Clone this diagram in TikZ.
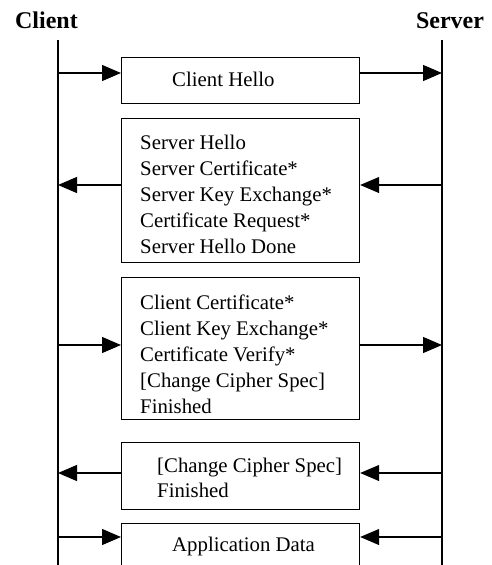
\documentclass[tikz,border=0pt]{standalone}
\usepackage{fontspec}
\setmainfont{Liberation Serif}
\usetikzlibrary{arrows.meta}
\begin{document}
\begin{tikzpicture}[x=1pt,y=-1pt,
  lifeline/.style={line width=1.2pt},
  msgbox/.style={draw, line width=1.2pt, minimum width=238pt, inner sep=0pt, anchor=north west},
  % multi-line texts are placed by the baseline of their last line
  msgtext/.style={font=\fontsize{20.8}{25.8}\selectfont, align=left, anchor=base west, inner sep=0pt},
  title/.style={font=\fontsize{24}{28}\selectfont\bfseries, anchor=base, inner sep=0pt},
  msg/.style={line width=1.2pt, -{Triangle[length=19pt,width=16pt]}}]
\useasboundingbox (0,0) rectangle (492,565);

% party names
\node[title] (client) at (46.5,28) {Client};
\node[title] (server) at (450,28) {Server};

% lifelines
\coordinate (cTop) at (58,40);  \coordinate (cBot) at (58,566);
\coordinate (sTop) at (442,40); \coordinate (sBot) at (442,566);
\draw[lifeline] (cTop) -- (cBot);
\draw[lifeline] (sTop) -- (sBot);

% message boxes
\node[msgbox, minimum height=46pt]  (b1) at (121,57)  {};
\node[msgbox, minimum height=144pt] (b2) at (121,118) {};
\node[msgbox, minimum height=142pt] (b3) at (121,277) {};
\node[msgbox, minimum height=67pt]  (b4) at (121,442) {};
\node[msgbox, minimum height=42pt]  (b5) at (121,523) {};

% message texts
\node[msgtext] (t1) at (172,86) {Client Hello};
\node[msgtext] (t2) at (140,253) {Server Hello\\Server Certificate*\\Server Key Exchange*\\Certificate Request*\\Server Hello Done};
\node[msgtext] (t3) at (140,413) {Client Certificate*\\Client Key Exchange*\\Certificate Verify*\\{[Change Cipher Spec]}\\Finished};
\node[msgtext, font=\fontsize{20.8}{25}\selectfont] (t4) at (157,497) {{[Change Cipher Spec]}\\Finished};
\node[msgtext] (t5) at (172,551) {Application Data};

% arrow rows on the lifelines
\coordinate (c1) at (58,73);  \coordinate (s1) at (442,73);
\coordinate (c2) at (58,185); \coordinate (s2) at (442,185);
\coordinate (c3) at (58,345); \coordinate (s3) at (442,345);
\coordinate (c4) at (58,473); \coordinate (s4) at (442,473);
\coordinate (c5) at (58,537); \coordinate (s5) at (442,537);

% client -> server
\draw[msg] (c1) -- (c1 -| b1.west);
\draw[msg] (b1.east |- c1) -- (s1);
% server -> client
\draw[msg] (s2) -- (s2 -| b2.east);
\draw[msg] (b2.west |- s2) -- (c2);
% client -> server
\draw[msg] (c3) -- (c3 -| b3.west);
\draw[msg] (b3.east |- c3) -- (s3);
% server -> client
\draw[msg] (s4) -- (s4 -| b4.east);
\draw[msg] (b4.west |- s4) -- (c4);
% both directions
\draw[msg] (c5) -- (c5 -| b5.west);
\draw[msg] (s5) -- (s5 -| b5.east);
\end{tikzpicture}
\end{document}
